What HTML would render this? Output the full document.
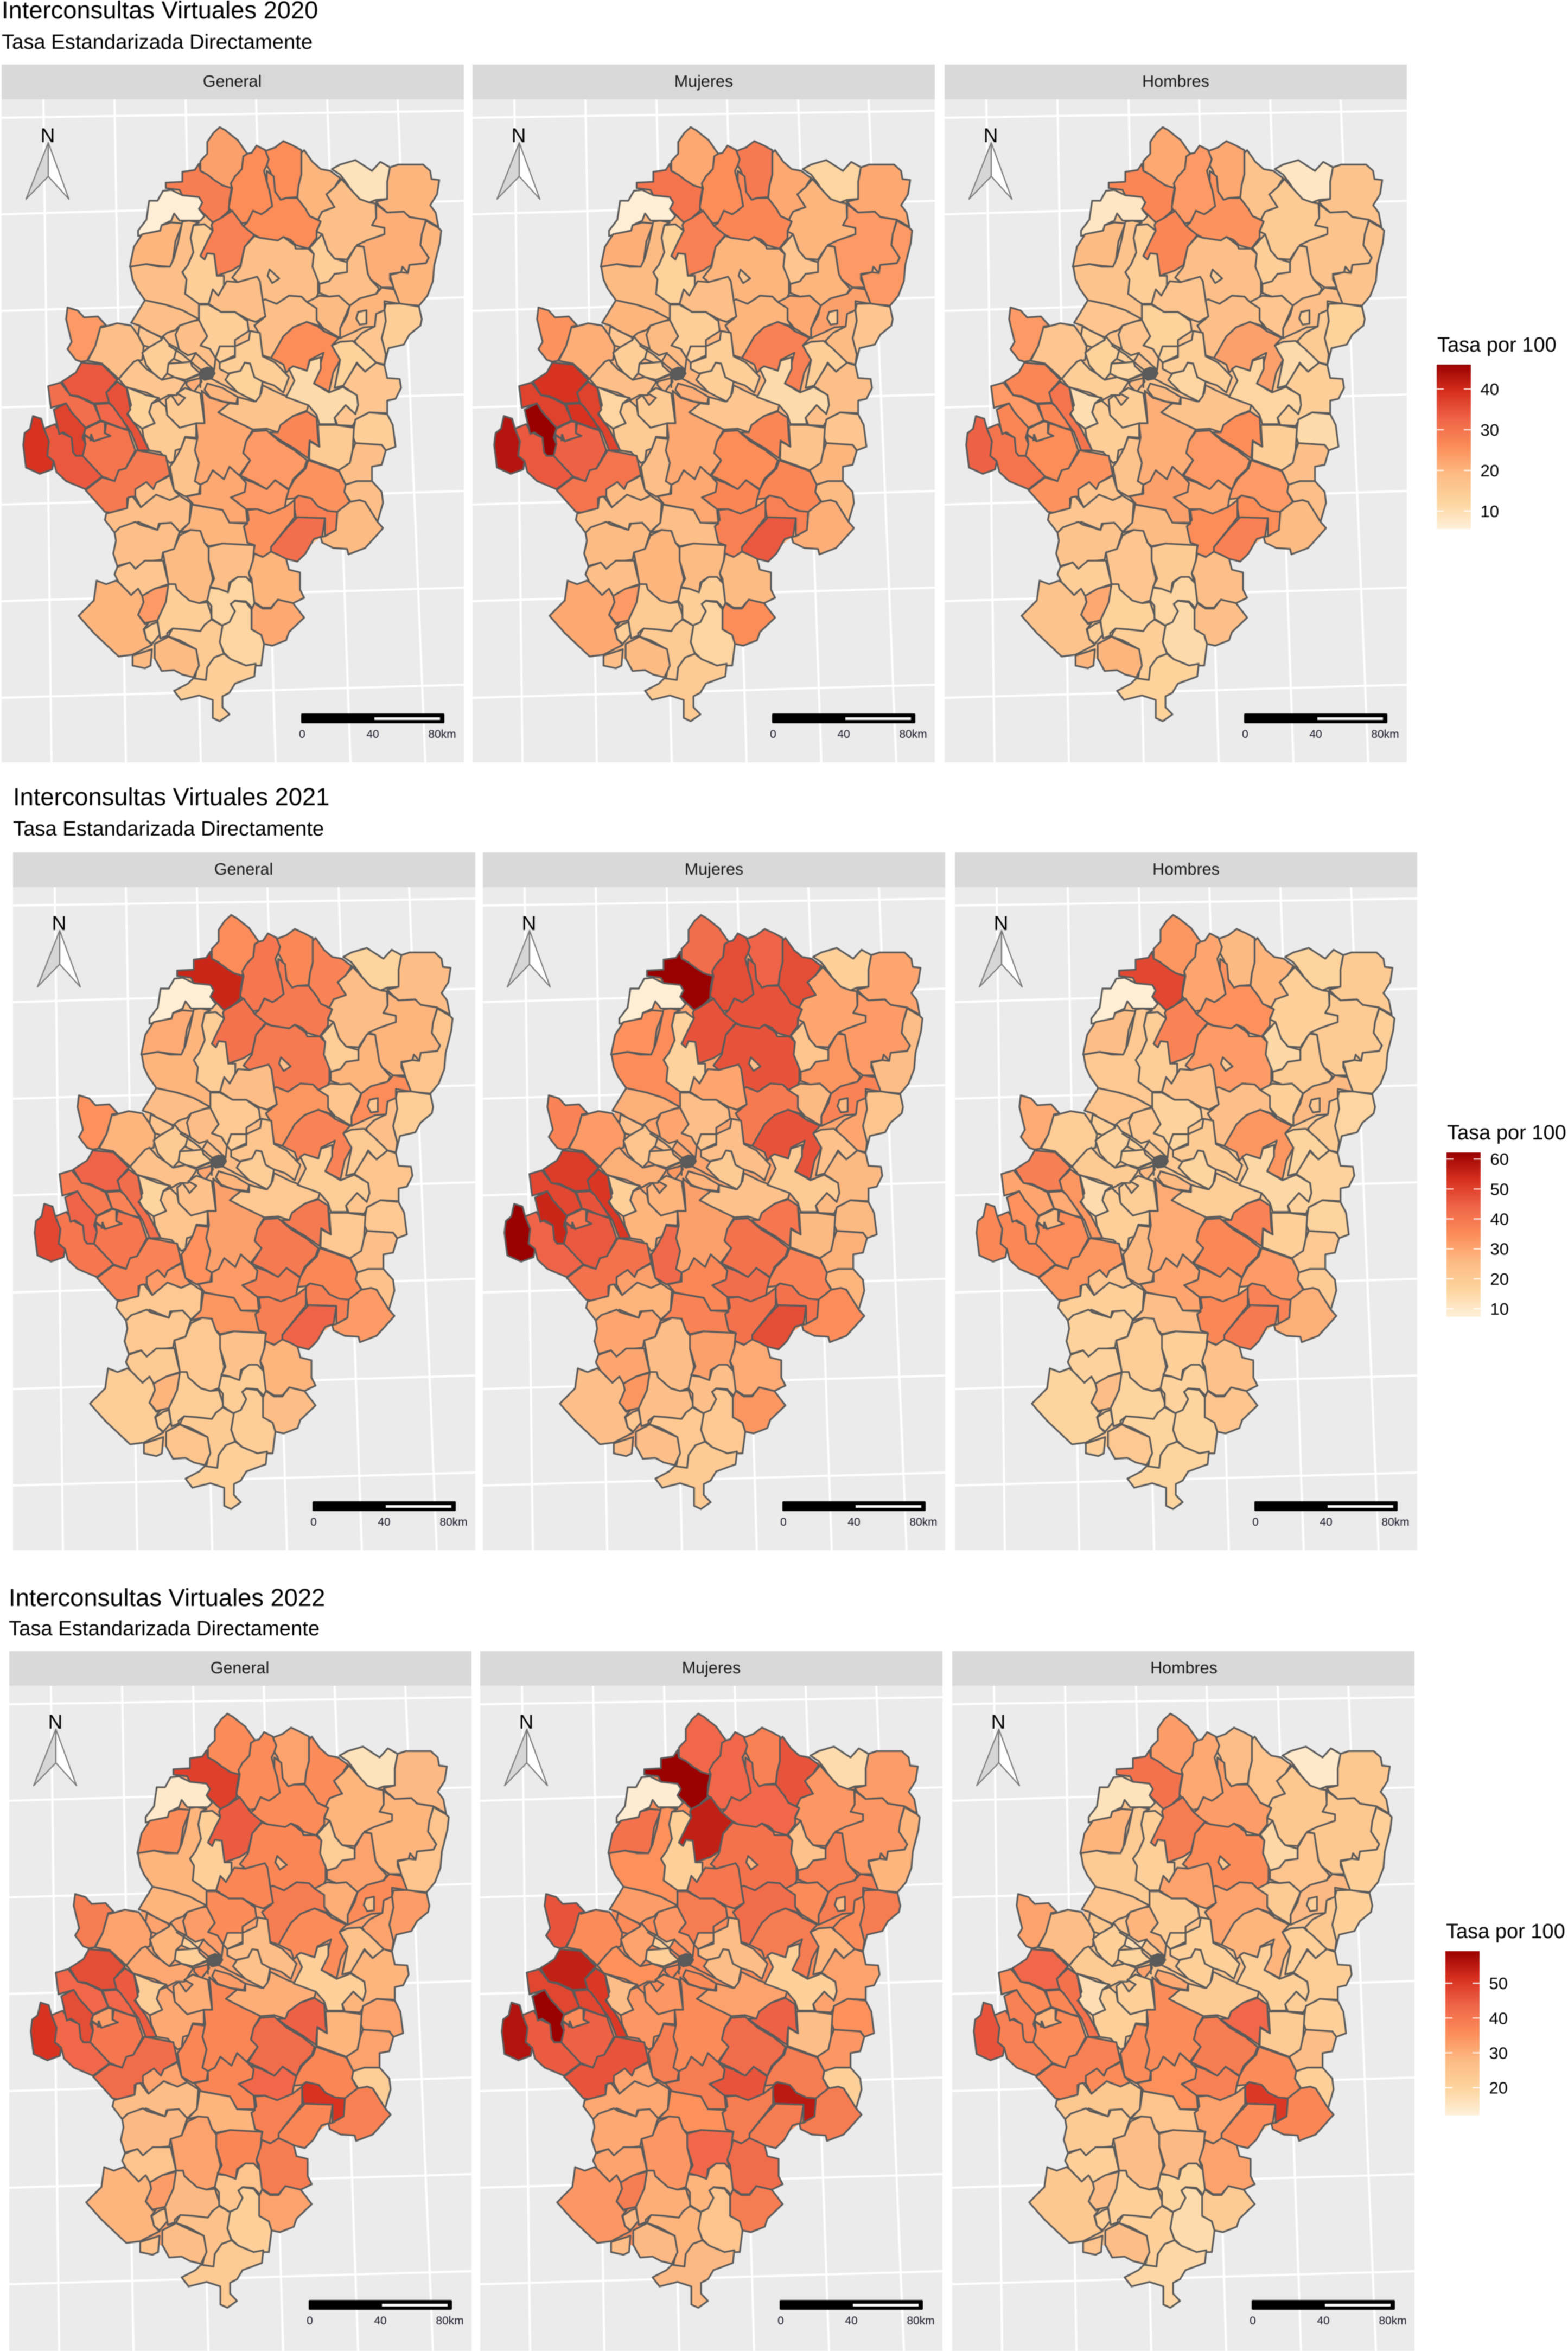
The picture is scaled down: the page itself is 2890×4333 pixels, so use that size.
<!DOCTYPE html>
<html lang="es">
<head>
<meta charset="utf-8">
<title>Interconsultas Virtuales 2020-2022</title>
<style>
html,body{margin:0;padding:0;background:#fff;}
svg{display:block;font-family:"Liberation Sans",Arial,sans-serif;filter:blur(0.7px);}
</style>
</head>
<body>
<svg id="chart" width="2890" height="4333" viewBox="0 0 2890 4333" xmlns="http://www.w3.org/2000/svg">
<rect width="2890" height="4333" fill="#ffffff"/>
<text x="3" y="34" font-size="45.3" fill="#000">Interconsultas Virtuales 2020</text>
<text x="3" y="90" font-size="38.2" fill="#000">Tasa Estandarizada Directamente</text>
<text x="24" y="1484" font-size="45.3" fill="#000">Interconsultas Virtuales 2021</text>
<text x="24" y="1540" font-size="38.2" fill="#000">Tasa Estandarizada Directamente</text>
<text x="16" y="2960" font-size="45.3" fill="#000">Interconsultas Virtuales 2022</text>
<text x="16" y="3014" font-size="38.2" fill="#000">Tasa Estandarizada Directamente</text>

<g font-size="30.5" fill="#1a1a1a" text-anchor="middle">
<rect x="3" y="119" width="852" height="64" fill="#d9d9d9"/>
<text x="428" y="160">General</text>
<rect x="871" y="119" width="852" height="64" fill="#d9d9d9"/>
<text x="1297" y="160">Mujeres</text>
<rect x="1741" y="119" width="852" height="64" fill="#d9d9d9"/>
<text x="2167" y="160">Hombres</text>
<rect x="24" y="1571" width="852" height="64" fill="#d9d9d9"/>
<text x="449" y="1612">General</text>
<rect x="890" y="1571" width="852" height="64" fill="#d9d9d9"/>
<text x="1316" y="1612">Mujeres</text>
<rect x="1760" y="1571" width="852" height="64" fill="#d9d9d9"/>
<text x="2186" y="1612">Hombres</text>
<rect x="17" y="3043" width="852" height="64" fill="#d9d9d9"/>
<text x="442" y="3084">General</text>
<rect x="885" y="3043" width="852" height="64" fill="#d9d9d9"/>
<text x="1311" y="3084">Mujeres</text>
<rect x="1755" y="3043" width="852" height="64" fill="#d9d9d9"/>
<text x="2182" y="3084">Hombres</text>
</g>

<text x="2649" y="648" font-size="38" fill="#000">Tasa por 100</text>
<text x="2667" y="2100" font-size="38" fill="#000">Tasa por 100</text>
<text x="2665" y="3572" font-size="38" fill="#000">Tasa por 100</text>

<defs>
<linearGradient id="legendGradient" x1="0" y1="1" x2="0" y2="0">
<stop offset="0" stop-color="#fef0d9"/>
<stop offset="0.1667" stop-color="#fdd49e"/>
<stop offset="0.3333" stop-color="#fdbb84"/>
<stop offset="0.5" stop-color="#fc8d59"/>
<stop offset="0.6667" stop-color="#ef6548"/>
<stop offset="0.8333" stop-color="#d7301f"/>
<stop offset="1" stop-color="#990000"/>
</linearGradient>
</defs>
</svg>

<script>
// ---- Colour scale stops (OrRd) ----
const paletteColors = [[254,240,217],[253,212,158],[253,187,132],[252,141,89],[239,101,72],[215,48,31],[153,0,0]];

// ---- Legend domains and tick labels per year ----
const domain2020 = [5.6, 46];
const domain2021 = [7.3, 62.2];
const domain2022 = [12, 59.2];
const ticks2020 = [10, 20, 30, 40];
const ticks2021 = [10, 20, 30, 40, 50, 60];
const ticks2022 = [20, 30, 40, 50];

// ---- Rates per region (same order as regionIds) ----
const regionIds = ["r1","r2","r3","r4","r5","r6","r7","r8","r9","r10","r11","r12","r13","r14","r15","r16","r17","r17h","r18","r19","r20","r22","r23","r24","r24h","r25","r26","r27","r28","r29","r30","r31","r32","r33","r34","r35","r36","r37","r38","r39","r40","r41","r42","r43","r44","r45","r46","r47","r48","r49","r50","r51","r52","r53","r54","r55","r56","r57","r58","r59","r60","r61","r62","r63","r64","r65","r66","r67","r68","r69","r70","r71","r72","r73","r74","r75","r76","r77","r78","r79","r80","r81","r82","r83","r84","r85","r86","r87","r88","r89","r90","r91","r92","r93"];

const general2020 = [23,28.5,26,26,26,20,9,20,18,21,20,6,20,18,14,28,18,16,14,18,18,18,19,20,14,14,16,24,18,16,18,14,18,15,14,14,16,21,13,15,15,17,22,20,17,13,14,14,26,11,13,16,14,15,27,18,18,24,24,22,25,28,31,25,19,18,29,34,39,37,31,34,35,32,29,30,18,18,16,20,24,19,20,18,12,12,20,22,14,15,19,14,19,14];
const mujeres2020 = [22,30,26,29,27,22,12,22,20,24,24,6,21,19,13,28,20,16,16,20,18,20,22,23,14,16,19,25,21,16,20,14,19,16,14,14,18,20,12,15,15,18,22,21,16,14,14,14,28,11,14,18,16,17,27,20,19,26,27,22,27,28,34,28,21,19,30,34,43,46,37,39,37,39,32,33,18,19,18,22,24,20,18,19,14,12,19,26,15,15,19,15,18,14];
const hombres2020 = [22,27,24,22,25,17,8,17,15,17,17,8,19,17,14,27,18,14,14,16,16,18,16,18,14,13,15,24,16,14,16,13,16,14,13,12,14,19,10,14,14,17,21,19,17,12,14,13,23,12,11,14,11,14,26,18,18,24,22,23,24,26,28,26,19,17,25,30,33,27,24,27,30,27,23,26,16,17,14,17,22,16,19,15,12,11,18,18,13,14,20,13,20,14];

const general2021 = [35,55,40,36,39,37,16.5,25,25,27,22,8,29,27,19,41,39,24,19,27,25,33,22,35,21,19,24,34,27,22,25,21,25,21,20,19,23,30,16.5,22,23,34,31,27,21,19,22,19,37,19,20,22,21,21,39,24,23,39,38,32,36,38,44,38,32,32,37,40,49,44,39,44,42,37,34,40,21,21,20,19,27,21,33,23,19,19,27,25,19,20,22,18,20,19];
const mujeres2021 = [42,62,48,44,47,48,18,30,30,32,25,8,34,35,17,47,47,24,22,33,30,39,26,37,26,22,30,37,32,24,28,24,30,24,22,23,28,33,18,27,27,43,31,27,23,20,24,22,47,20,23,26,26,26,40,28,27,41,42,36,37,41,48,41,35,31,41,44,62,55,49,51,52,47,40,46,27,30,30,24,33,25,37,31,24,21,29,33,24,21,24,20,24,21];
const hombres2021 = [33,49,30,26,34,27,16.5,20,18,20,18,8,25,21,19,37,32,21,15,20,23,24,18,26,21,16,20,29,19,18,22,17,21,18,17,17,20,26,14,18,19,26,29,26,19,16.5,20,16.5,33,15,16.5,17,16.5,18,37,21,20,36,33,30,32,37,39,36,28,22,33,36,36,34,30,38,33,29,26,35,18,17,17,16.5,25,19,24,18,17,16.5,23,22,16.5,16.5,21,16.5,18,17];

const general2022 = [36,49,36,32,36,36,16,28,29,29,25,14,36,29,21,45,37,28,22,32,37,39,30,36,26,33,32,39,32,32,29,36,33,21,29,21,31,36,22,31,30,37,37,33,30,26,27,27,36,21,26,29,32,29,44,32,22,42,43,37,37,51,37,38,38,32,42,43,51,47,43,47,45,43,33,40,27,28,25,29,33,32,29,37,25,21,39,32,28,26,27,23,26,26];
const mujeres2022 = [43,59,43,38,43,46,18,33,34,34,29,13,41,35,21,54,41,29,26,38,40,42,36,39,27,39,36,46,36,36,33,39,34,21,32,21,35,37,27,34,34,39,36,36,32,27,27,30,39,21,29,32,35,27,44,34,21,42,46,39,39,55,39,39,39,32,46,45,56,59,48,54,50,48,36,44,31,31,32,34,39,34,35,43,29,25,42,39,30,29,28,28,27,28];
const hombres2022 = [33,41,31,27,33,25,14,24,24,24,21,16,29,23,21,39,36,24,19,25,32,32,23,28,21,21,24,32,27,24,25,23,29,17,21,20,23,32,17,21,21,36,36,31,23,21,21,21,29,21,21,22,21,23,43,27,21,39,38,35,36,50,36,32,37,36,38,38,46,38,36,43,41,37,29,36,24,23,21,24,27,27,25,28,20,18,32,23,21,21,27,19,25,22];

// ---- Base map: region outlines as [id, y offset, traced map coordinates] ----
const regionShapes = [
["r1",0,"735,28 755,45 775,70 800,100 825,155 835,175 820,190 815,260 790,300 780,330 775,365 745,350 715,320 690,290 665,270 665,215 690,175 690,110 712,60"],
["r2",0,"660,230 665,270 690,290 715,320 745,350 778,365 770,430 768,490 740,530 710,555 680,510 660,480 672,445 660,415 600,405 590,375 540,365 540,335 600,330 600,275 645,265"],
["r3",0,"868,130 900,155 912,205 905,240 895,270 905,330 915,380 925,465 905,490 885,510 855,490 835,555 815,560 770,480 768,470 780,365 775,340 790,300 815,260 820,190 835,175 850,170"],
["r4",0,"965,105 1000,130 1030,155 1030,290 1020,350 1015,415 975,420 955,430 935,385 930,320 915,265 905,240 912,205 900,160 935,140"],
["r5",0,"905,270 930,300 935,385 955,430 975,420 1015,420 1045,480 1060,520 1100,550 1085,600 1085,640 1055,700 1010,680 990,650 965,635 945,655 880,640 855,620 820,575 835,555 855,490 885,510 905,490 925,465 915,380 905,330"],
["r6",0,"1040,155 1070,220 1100,260 1135,270 1170,310 1150,360 1120,400 1150,470 1105,495 1090,540 1060,520 1045,480 1015,420 1020,350 1030,290 1030,170"],
["r7",0,"1140,260 1170,235 1225,210 1260,245 1285,270 1315,220 1350,250 1340,330 1340,425 1300,430 1275,445 1240,425 1210,375 1185,320 1170,290"],
["r8",0,"1350,250 1380,235 1470,235 1495,270 1500,315 1528,320 1520,400 1495,460 1515,500 1525,580 1480,540 1420,525 1400,495 1340,500 1310,460 1300,440 1340,425 1340,330"],
["r9",0,"1175,315 1210,375 1240,425 1275,445 1298,450 1300,530 1285,570 1330,585 1330,620 1265,655 1225,690 1195,760 1150,755 1125,710 1105,620 1085,605 1100,550 1090,540 1105,495 1150,470 1120,400 1150,360"],
["r10",0,"1300,455 1340,500 1400,495 1420,525 1480,540 1465,620 1460,680 1490,750 1480,780 1420,790 1415,835 1395,800 1390,830 1350,840 1350,870 1365,915 1320,915 1280,870 1270,840 1255,690 1230,680 1265,655 1330,620 1330,585 1285,570 1300,530"],
["r11",0,"1480,545 1525,585 1535,600 1530,670 1510,790 1505,880 1485,960 1455,1015 1385,1005 1365,925 1350,845 1390,830 1415,835 1420,790 1480,780 1490,750 1460,680 1465,620"],
["r12",0,"530,380 560,375 600,405 660,415 672,445 660,480 680,520 665,545 625,545 590,545 570,505 560,545 525,570 520,600 440,630 440,600 470,540 480,435 510,435"],
["r13",0,"600,560 575,660 565,770 555,800 515,795 470,785 410,800 425,690 455,620 520,600 525,570 560,555"],
["r14",0,"412,800 470,785 515,800 555,800 570,750 585,660 600,550 625,545 660,555 640,570 630,640 640,720 620,790 600,830 615,870 610,950 660,1005 660,1090 600,1040 540,1010 465,985 435,920 420,870"],
["r15",0,"640,570 680,565 710,600 690,660 665,740 680,760 690,725 715,730 725,850 750,850 750,905 730,960 710,925 695,1005 660,1005 610,950 615,870 600,830 620,790 640,720 630,640"],
["r16",0,"780,490 820,575 860,625 825,690 810,790 780,820 725,850 715,730 690,725 680,760 665,740 690,660 710,600 705,570 710,555 740,530"],
["r17",0,"860,630 880,640 945,655 965,635 1005,680 1010,700 1055,700 1075,730 1070,800 1090,870 1090,950 1080,980 1050,995 1030,965 985,960 940,1005 900,980 890,985 880,880 870,855 800,885 780,860 810,800 825,690"],
["r17h",0,"915,815 950,865 925,890 908,850"],
["r18",0,"1060,695 1105,620 1125,710 1150,755 1195,775 1195,830 1150,840 1130,880 1095,895 1070,800 1075,730"],
["r19",0,"1230,685 1255,690 1270,840 1280,870 1310,920 1300,950 1240,975 1205,1015 1165,960 1130,965 1095,945 1095,895 1130,880 1150,840 1195,830 1195,770 1225,690"],
["r20",0,"800,885 870,855 880,880 890,985 900,1075 865,1105 835,1090 790,1050 740,1050 695,1005 710,925 730,960 750,905 760,880"],
["r22",0,"890,985 900,980 940,1005 985,960 1030,965 1050,995 1085,1030 1085,1095 1110,1155 1090,1125 1050,1105 1000,1135 965,1185 920,1305 890,1290 880,1175 860,1125 900,1075"],
["r23",0,"1050,995 1095,960 1130,965 1165,960 1205,1015 1170,1140 1170,1195 1110,1140 1085,1095 1085,1030"],
["r24",0,"1205,1015 1240,975 1300,950 1320,915 1365,925 1385,1005 1330,990 1330,1040 1300,1060 1295,1130 1255,1135 1220,1160 1170,1195 1170,1140 1195,1070"],
["r24h",0,"1235,1050 1265,1040 1265,1115 1240,1120 1228,1085"],
["r25",0,"1335,1005 1385,1003 1455,1020 1465,1090 1460,1125 1420,1175 1400,1230 1345,1250 1330,1340 1335,1285 1320,1195 1335,1100 1330,1040"],
["r26",0,"1300,1060 1330,1040 1335,1100 1320,1195 1335,1285 1330,1340 1300,1330 1270,1290 1240,1255 1222,1210 1250,1165 1295,1130"],
["r27",0,"185,1025 222,1042 245,1080 295,1075 325,1125 305,1130 285,1240 255,1320 235,1325 215,1315 185,1255 200,1215 180,1090"],
["r28",0,"310,1135 365,1112 415,1125 440,1180 460,1240 455,1315 425,1325 395,1375 370,1420 310,1335 258,1320 285,1240 305,1130"],
["r29",0,"445,1130 470,1150 522,1190 525,1205 480,1245 460,1235 440,1180"],
["r30",0,"465,985 540,1010 600,1040 660,1090 640,1100 590,1125 575,1150 545,1165 525,1190 470,1150 445,1125 415,1110"],
["r31",0,"660,1010 695,1010 740,1050 790,1050 835,1100 840,1155 790,1205 790,1240 735,1240 720,1305 700,1255 665,1235 690,1185 660,1125"],
["r32",0,"640,1100 660,1095 690,1185 665,1235 700,1255 720,1305 715,1370 650,1280 620,1310 590,1270 575,1175 590,1125"],
["r33",0,"575,1245 620,1290 650,1275 630,1325 600,1330 570,1310"],
["r34",0,"530,1185 550,1225 580,1250 570,1305 550,1335 545,1390 525,1425 495,1390 470,1345 455,1275 480,1245 525,1205"],
["r35",0,"550,1335 600,1330 630,1325 635,1350 665,1390 610,1425 570,1410 545,1390"],
["r36",0,"440,1315 470,1365 495,1390 525,1425 570,1410 612,1435 580,1510 550,1510 520,1535 470,1495 395,1465 370,1420 395,1375 425,1325"],
["r37",1125,"615,310 665,290 670,310 640,370 615,330"],
["r38",1125,"398,340 470,385 515,400 490,430 480,480 500,540 455,570 420,530 400,480 415,440"],
["r39",1125,"515,415 540,450 545,495 590,565 650,540 650,620 610,615 595,680 575,690 570,750 555,760 520,700 480,690 460,620 455,570 500,540 480,480 490,430"],
["r40",1125,"610,345 665,375 680,540 650,540 590,565 545,495 540,410 560,385 585,440 610,400 580,375"],
["r41",1125,"610,620 665,630 645,690 660,760 645,860 665,880 660,930 610,945 570,910 555,780 570,750 595,680"],
["r42",1125,"670,360 700,400 745,420 770,430 730,480 780,520 855,575 830,640 820,705 845,745 805,830 770,780 750,850 710,800 690,860 665,880 645,860 660,760 645,690 655,620 650,540 680,540 675,430"],
["r43",1125,"690,320 745,345 800,395 795,430 745,420 700,395 680,355"],
["r44",1125,"770,430 800,435 800,395 860,420 885,375 890,330 950,375 985,395 1055,440 1050,470 1000,500 955,550 945,590 905,570 855,575 780,520 730,480"],
["r45",1125,"825,205 845,210 860,285 890,310 880,390 865,420 800,370 755,300 770,265 810,250"],
["r46",1125,"845,30 880,40 890,170 935,205 985,285 965,370 930,330 890,310 860,285 845,210 825,205 810,250 765,265 735,240 735,205 790,175 790,115 840,80"],
["r47",1125,"735,115 790,115 790,165 735,205 720,180"],
["r48",0,"1050,1105 1090,1130 1110,1155 1165,1195 1140,1235 1170,1315 1145,1385 1130,1490 1075,1445 1090,1385 1110,1275 1060,1315 1050,1375 1000,1350 975,1385 965,1340 920,1305 965,1185 1000,1135"],
["r49",1125,"1060,195 1100,175 1100,240 1075,320 1130,370 1180,340 1230,385 1235,440 1225,490 1190,440 1150,510 1155,545 1095,545 1085,495 1055,440 975,395 1005,305 985,240 1000,225 1050,250"],
["r50",1125,"1170,90 1215,85 1250,130 1300,205 1260,255 1230,205 1185,330 1150,345 1170,190 1140,110"],
["r51",1125,"1300,205 1330,220 1340,290 1385,295 1390,345 1370,405 1340,415 1340,485 1275,480 1230,515 1215,555 1160,550 1150,510 1190,440 1225,490 1235,440 1230,385 1180,335 1230,210 1260,255"],
["r52",1125,"1275,480 1340,490 1360,550 1370,670 1335,690 1320,660 1225,650 1215,610 1225,520"],
["r53",1125,"1090,550 1155,550 1220,565 1215,690 1205,760 1165,800 1058,740 1060,640 1095,670"],
["r54",1125,"1050,475 1085,510 1090,630 1095,670 1060,635 1055,735 1005,680 950,630 915,590 945,590 955,550 1000,500"],
["r55",1125,"1225,650 1320,660 1335,690 1320,770 1285,780 1285,860 1230,860 1190,880 1165,800 1205,760 1215,690"],
["r56",1125,"1190,880 1230,860 1285,860 1320,920 1325,980 1305,1085 1260,975 1240,965 1210,980 1185,920"],
["r57",1125,"855,585 905,580 950,640 1005,690 1050,745 1040,790 1000,850 985,905 935,855 905,905 860,865 810,830 845,745 820,705 830,640"],
["r58",1125,"815,845 860,870 905,905 935,855 985,910 975,960 970,1005 915,1040 870,1015 830,1015 775,950 825,920 830,870"],
["r59",1125,"770,780 810,835 830,870 825,920 775,950 830,1015 835,1090 770,1090 745,1020 690,1005 640,990 615,945 665,930 665,880 690,860 710,800 750,850"],
["r60",1125,"1055,745 1165,805 1190,880 1185,920 1205,975 1160,1030 1125,1025 1090,1000 1065,955 1020,940 1005,955 975,960 985,905 1005,850 1045,790"],
["r61",1125,"1005,960 1020,940 1065,955 1090,1000 1125,1025 1160,1030 1155,1130 1115,1165 1115,1065 1010,1060 1005,1010"],
["r62",0,"1015,2185 1115,2190 1105,2290 1075,2305 1045,2385 1015,2430 975,2415 950,2395 920,2375 920,2350 980,2240"],
["r63",0,"835,2145 870,2140 915,2165 970,2130 1005,2090 1005,2185 980,2235 920,2350 920,2375 895,2405 855,2385 862,2340 835,2325 822,2235 840,2200"],
["r64",0,"1160,2155 1205,2100 1240,2090 1260,2100 1305,2210 1325,2245 1290,2305 1260,2355 1200,2390 1195,2360 1145,2355 1105,2325 1100,2295 1115,2290 1155,2255"],
["r65",1125,"430,905 470,865 495,905 505,870 555,830 570,910 590,940 555,965 505,935 450,1005 430,945"],
["r66",1125,"435,690 475,700 540,720 555,825 505,870 495,905 470,865 430,905 430,945 400,955 400,1010 340,1035 320,1030 250,910 310,840 355,860 370,800 395,790"],
["r67",1125,"140,545 160,590 200,620 205,700 215,720 240,720 310,835 250,905 180,860 145,810 135,750 112,720 118,640 100,570"],
["r68",1125,"60,500 90,515 100,570 118,640 112,720 135,750 130,795 85,820 35,785 25,660 30,595 50,570"],
["r69",1125,"180,430 200,480 250,565 240,620 250,655 240,720 215,720 205,700 200,620 170,590 155,600 135,465"],
["r70",1125,"115,335 160,315 195,385 225,395 280,435 305,525 250,565 200,480 180,430 125,455"],
["r71",1125,"235,205 310,215 365,300 325,370 335,425 280,430 225,390 195,385 165,310 215,260"],
["r72",1125,"365,310 398,345 412,465 400,490 440,570 480,690 440,690 415,590 385,525 350,450 335,425 325,370"],
["r73",1125,"285,435 335,430 350,450 385,525 405,575 375,565 325,535 305,525"],
["r74",1125,"250,570 305,530 320,535 320,595 340,610 280,640 245,600"],
["r75",1125,"325,540 375,565 405,580 430,690 395,790 370,800 355,860 310,835 240,720 250,655 245,605 280,640 340,610 320,595"],
["r76",1125,"405,950 420,945 450,1005 505,935 555,965 590,940 630,980 625,1090 590,1140 560,1090 515,1095 510,1130 440,1085 415,1115 355,1145 320,1075 325,1040 400,1010"],
["r77",0,"355,2270 375,2240 430,2210 445,2225 510,2255 520,2220 560,2215 590,2265 570,2360 530,2380 525,2420 465,2430 430,2470 410,2435 365,2455 350,2385 360,2315"],
["r78",2235,"365,225 410,200 430,235 465,190 530,190 550,320 500,345 455,385 440,345 415,380 370,310 355,265"],
["r79",2235,"290,300 325,320 360,300 370,310 415,380 440,345 455,385 460,420 440,490 465,540 480,530 460,570 470,625 490,655 420,710 370,720 280,590 225,495 280,410"],
["r80",2235,"500,345 550,325 540,420 510,520 465,535 440,490 460,420 455,385"],
["r81",2235,"590,50 630,20 665,25 680,90 695,120 695,190 710,290 690,410 660,425 625,410 580,350 570,320 550,320 530,145 570,125"],
["r82",0,"635,2115 690,2130 745,2145 770,2215 835,2220 822,2235 835,2325 855,2340 790,2340 745,2330 695,2345 680,2325 665,2260 630,2255 590,2270 625,2215"],
["r83",2235,"695,115 745,95 860,105 855,190 840,260 850,320 830,280 800,280 770,310 765,365 730,345 700,335 715,290 695,190"],
["r84",2235,"700,340 730,345 765,365 775,310 800,280 830,280 855,320 865,410 855,455 830,415 790,410 775,430 790,470 770,530 745,550 705,510 705,440 690,410"],
["r85",2235,"790,412 830,420 850,460 850,570 885,600 895,650 885,770 830,770 775,735 750,700 735,640 740,550 770,530 790,470 775,430"],
["r86",2235,"860,150 890,170 920,140 950,160 975,180 985,240 1025,255 1025,350 1040,395 1000,425 945,405 920,450 890,450 860,420 850,290 840,260 855,190"],
["r87",2235,"860,425 890,455 920,455 945,405 1000,425 1040,505 985,585 975,630 925,660 895,650 885,600 850,570 850,460"],
["r88",2235,"550,320 575,320 580,350 625,410 660,425 690,420 705,490 705,520 680,545 665,580 610,570 565,565 545,590 545,605 520,620 510,520 540,420"],
["r89",2235,"555,590 565,565 610,570 665,580 680,545 705,515 745,550 735,640 750,705 715,725 690,780 685,850 645,845 655,770 650,680 590,630 550,610"],
["r90",2235,"550,610 590,640 650,680 660,770 640,835 600,820 570,795 525,800 500,730 500,650"],
["r91",2235,"750,705 775,735 830,770 865,760 860,830 790,870 770,920 745,940 745,1000 770,1040 735,1078 710,1060 710,960 660,935 595,960 570,910 620,870 640,840 685,850 690,780 715,725"],
["r92",2235,"420,715 490,680 485,770 465,785 420,770"],
["r93",2235,"462,570 490,540 510,530 518,600 490,650 470,625"]
];
const cityCore = "665,245 690,230 712,240 718,265 705,295 680,302 662,285";
const cityLinks = ["550,110 600,160 670,250","700,290 750,330 800,370","665,290 665,345","615,300 665,270","270,600 278,632 268,634 270,600"];
// interior patch beneath the regions, inset from the coast: closes seams between traced neighbours
const territoryInterior = "735,80 800,160 870,190 965,160 1030,220 1090,300 1140,310 1225,270 1300,300 1450,290 1490,340 1470,460 1490,600 1470,790 1440,960 1410,1060 1420,1090 1360,1200 1300,1330 1340,1450 1300,1530 1330,1780 1270,1830 1250,1910 1280,2050 1270,2200 1280,2240 1240,2330 1190,2350 1105,2290 1010,2400 960,2380 985,2530 1000,2640 960,2840 860,2870 850,3000 780,3080 720,3150 735,3250 700,3150 610,3150 660,3060 540,3000 470,2950 380,2900 270,2730 320,2580 400,2560 390,2420 360,2210 290,2040 160,1900 70,1880 60,1790 90,1720 130,1700 170,1590 150,1480 200,1460 260,1350 220,1250 260,1240 300,1150 420,1130 480,1000 450,870 440,800 470,640 510,450 560,400 620,300 670,260 720,110";

// ---- Layout of the figure ----
const NS = "http://www.w3.org/2000/svg";
const svg = document.getElementById("chart");
const panelW = 852;
const rowSpecs = [
  {year:2020, dy:0, x:[3,871,1741], domain:domain2020, ticks:ticks2020, legendX:2648, height:1222, series:[general2020,mujeres2020,hombres2020]},
  {year:2021, dy:1452, x:[24,890,1760], domain:domain2021, ticks:ticks2021, legendX:2666, height:1222, series:[general2021,mujeres2021,hombres2021]},
  {year:2022, dy:2924, x:[17,885,1755], domain:domain2022, ticks:ticks2022, legendX:2664, height:1226, series:[general2022,mujeres2022,hombres2022]}
];
const facetNames = ["general","mujeres","hombres"];
const gridTop = [77,208,339,469,600,730];
const gridBottom = [92,229,367,505,643,781];
const gridLeft = [217,395,573,751,930,1108,1286];
const gridRight = [204,370,548,727,905,1083,1262];

// ---- Axis functions ----
function mapX(u){ return 27 + u / 1.96; }
function mapY(v){ return 225 + v / 3; }
function projectPoints(str, off){
  return str.split(" ").map(function(p){
    const c = p.split(",");
    return mapX(+c[0]).toFixed(1) + "," + mapY(+c[1] + off).toFixed(1);
  }).join(" ");
}
function colorOf(value, domain){
  let t = (value - domain[0]) / (domain[1] - domain[0]);
  t = Math.max(0, Math.min(1, t)) * (paletteColors.length - 1);
  const i = Math.min(Math.floor(t), paletteColors.length - 2);
  const f = t - i;
  const a = paletteColors[i], b = paletteColors[i + 1];
  return "rgb(" + [0,1,2].map(function(k){ return Math.round(a[k] + (b[k] - a[k]) * f); }).join(",") + ")";
}
function legendY(value, domain, top, bottom){
  return bottom - (value - domain[0]) / (domain[1] - domain[0]) * (bottom - top);
}
function medianOf(list){
  const s = list.slice().sort(function(a, b){ return a - b; });
  return s[Math.floor(s.length / 2)];
}
function mk(tag, attrs, parent){
  const el = document.createElementNS(NS, tag);
  for (const k in attrs) el.setAttribute(k, attrs[k]);
  parent.appendChild(el);
  return el;
}

// ---- Draw panels ----
rowSpecs.forEach(function(row){
  row.x.forEach(function(px, f){
    const values = row.series[f];
    const panelName = facetNames[f] + "-" + row.year;
    const g = mk("g", {transform:"translate(" + px + "," + row.dy + ")"}, svg);
    
    

    const bg = mk("rect", {x:0, y:183, width:panelW, height:row.height, fill:"#ebebeb"}, g);
    
    

    gridTop.forEach(function(t, i){
      const line = mk("line", {x1:t, y1:183, x2:gridBottom[i], y2:183 + row.height, stroke:"#ffffff", "stroke-width":4}, g);
      
      
    });
    gridLeft.forEach(function(l, i){
      const line = mk("line", {x1:0, y1:l, x2:panelW, y2:gridRight[i], stroke:"#ffffff", "stroke-width":4}, g);
      
      
    });

    const under = mk("polygon", {points:projectPoints(territoryInterior, 0), fill:colorOf(medianOf(values), row.domain)}, g);
    
    

    const regions = mk("g", {stroke:"#5a5a5a", "stroke-width":3.2, "stroke-linejoin":"round"}, g);
    
    
    regionShapes.forEach(function(s){
      const value = values[regionIds.indexOf(s[0])];
      const poly = mk("polygon", {points:projectPoints(s[2], s[1]), fill:colorOf(value, row.domain)}, regions);
      
      
    });
    cityLinks.forEach(function(c){
      const link = mk("polyline", {points:projectPoints(c, 1125), fill:"none", stroke:"#5a5a5a", "stroke-width":3.2}, g);
      
      
    });
    const core = mk("polygon", {points:projectPoints(cityCore, 1125), fill:"#5a5a5a", stroke:"#5a5a5a", "stroke-width":2}, g);
    
    

    // north arrow
    const north = mk("g", {}, g);
    
    
    const nText = mk("text", {x:85, y:262, "font-size":37, "text-anchor":"middle", fill:"#000"}, north);
    nText.textContent = "N";
    
    
    const nLeft = mk("polygon", {points:"86,263 45,367 86,325", fill:"#d6d6d6", stroke:"#7a7a7a", "stroke-width":2.2, "stroke-linejoin":"round"}, north);
    
    
    const nRight = mk("polygon", {points:"86,263 124,367 86,325", fill:"#ffffff", stroke:"#7a7a7a", "stroke-width":2.2, "stroke-linejoin":"round"}, north);
    
    

    // scale bar
    const bar = mk("g", {}, g);
    
    
    const barBlack = mk("rect", {x:552, y:1315, width:264, height:18, rx:2, fill:"#000"}, bar);
    
    
    const barWhite = mk("rect", {x:687, y:1322, width:121, height:5, fill:"#fff"}, bar);
    
    
    [["0",554],["40",684],["80km",812]].forEach(function(lab){
      const t = mk("text", {x:lab[1], y:1360, "font-size":21, "text-anchor":"middle", fill:"#1a1a2a"}, bar);
      t.textContent = lab[0];
      
      
    });
  });

  // legend
  const top = 672 + row.dy, bottom = 975 + row.dy, lx = row.legendX;
  const lg = mk("g", {}, svg);
  
  
  const ramp = mk("rect", {x:lx, y:top, width:63, height:bottom - top, fill:"url(#legendGradient)"}, lg);
  
  
  row.ticks.forEach(function(v){
    const y = legendY(v, row.domain, top, bottom);
    [[lx, lx + 13],[lx + 50, lx + 63]].forEach(function(seg){
      const tick = mk("line", {x1:seg[0], x2:seg[1], y1:y, y2:y, stroke:"#ffffff", "stroke-width":2.2, "stroke-opacity":0.9}, lg);
      
      
    });
    const label = mk("text", {x:lx + 115, y:y + 11, "font-size":31, "text-anchor":"end", fill:"#000"}, lg);
    label.textContent = String(v);
    
    
  });
});
</script>
</body>
</html>
